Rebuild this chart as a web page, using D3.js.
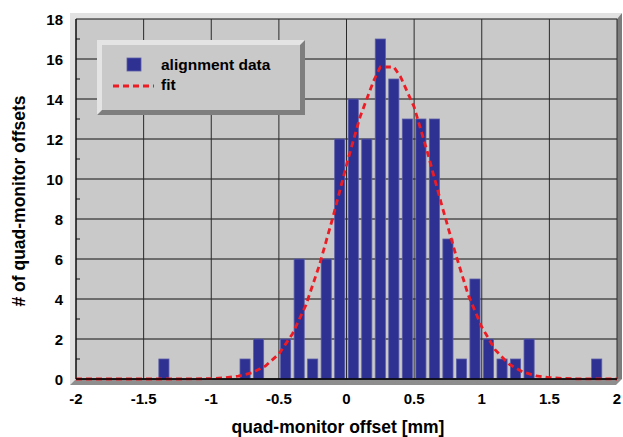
<!DOCTYPE html>
<html>
<head>
<meta charset="utf-8">
<script src="https://cdn.jsdelivr.net/npm/d3@7"></script>
<style>
  body { margin: 0; background: #fff; }
  svg { display: block; font-family: "Liberation Sans", Arial, sans-serif; font-weight: bold; }
</style>
</head>
<body>
<svg id="chart" width="623" height="437"></svg>
<script>
// histogram bins (left edge, bin width 0.1 mm) and counts
const binLeft = [-1.4, -0.8, -0.7, -0.5, -0.4, -0.3, -0.2, -0.1, 0.0, 0.1, 0.2, 0.3, 0.4, 0.5, 0.6, 0.7, 0.8, 0.9, 1.0, 1.1, 1.2, 1.3, 1.8];
const counts  = [1, 1, 2, 2, 6, 1, 6, 12, 14, 12, 17, 15, 13, 13, 13, 7, 1, 5, 2, 1, 1, 2, 1];
const binWidth = 0.1;

// fit curve
const fitX = [-2.0, -1.5, -1.2, -1.0, -0.9, -0.8, -0.7, -0.6, -0.5, -0.4, -0.3, -0.2, -0.1, 0.0, 0.1, 0.2, 0.25, 0.35, 0.4, 0.5, 0.6, 0.7, 0.8, 0.9, 1.0, 1.1, 1.2, 1.3, 1.4, 1.5, 1.6, 1.7, 2.0];
const fitY = [0, 0, 0, 0.02, 0.06, 0.14, 0.31, 0.65, 1.25, 2.25, 3.7, 5.7, 8.1, 10.7, 13.1, 14.9, 15.6, 15.6, 15.1, 13.6, 11.3, 8.8, 6.4, 4.2, 2.6, 1.45, 0.75, 0.36, 0.16, 0.07, 0.03, 0.01, 0];

const xTicks = [-2, -1.5, -1, -0.5, 0, 0.5, 1, 1.5, 2];
const yTicks = [0, 2, 4, 6, 8, 10, 12, 14, 16, 18];

const svg = d3.select("#chart");
const L = 76, R = 617, T = 19, B = 379;

const x = d3.scaleLinear().domain([-2, 2]).range([L, R]);
const y = d3.scaleLinear().domain([0, 18]).range([B, T]);

// 3D frame around the plot area
svg.append("polygon")
  .attr("points", [[70,13],[622,13],[617,T],[L,T],[L,B],[70,385]].join(" "))
  .attr("fill", "#e2e2e2");
svg.append("polygon")
  .attr("points", [[617,T],[622,13],[622,379],[617,B]].join(" "))
  .attr("fill", "#7c7c7c");
svg.append("polygon")
  .attr("points", [[L,B],[617,B],[622,379],[616,385],[70,385]].join(" "))
  .attr("fill", "#8e8e8e");

svg.append("rect")
  .attr("x", L).attr("y", T)
  .attr("width", R - L).attr("height", B - T)
  .attr("fill", "#c9c9c9");

// grid
svg.append("g")
  .selectAll("line")
  .data(yTicks)
  .enter().append("line")
    .attr("x1", L).attr("x2", R)
    .attr("y1", d => y(d)).attr("y2", d => y(d))
    .attr("stroke", "#111")
    .attr("stroke-width", 1);

svg.append("g")
  .selectAll("line")
  .data(xTicks)
  .enter().append("line")
    .attr("x1", d => x(d)).attr("x2", d => x(d))
    .attr("y1", T).attr("y2", B)
    .attr("stroke", "#2a2a2a")
    .attr("stroke-width", 1);

// minor y ticks
svg.append("g")
  .selectAll("line")
  .data(d3.range(1, 18, 2))
  .enter().append("line")
    .attr("x1", L).attr("x2", L + 4)
    .attr("y1", d => y(d)).attr("y2", d => y(d))
    .attr("stroke", "#111");

// bars
svg.append("g")
  .selectAll("rect")
  .data(binLeft)
  .enter().append("rect")
    .attr("x", d => x(d) + 1.7)
    .attr("width", d => x(d + binWidth) - x(d) - 3.4)
    .attr("y", (d, i) => y(counts[i]))
    .attr("height", (d, i) => y(0) - y(counts[i]))
    .attr("fill", "#2e3092")
    .attr("stroke", "#5b5ea8")
    .attr("stroke-width", 0.8);

// fit
const line = d3.line()
  .x(d => x(d[0]))
  .y(d => y(d[1]));

svg.append("path")
  .attr("d", line(fitX.map((d, i) => [d, fitY[i]])))
  .attr("fill", "none")
  .attr("stroke", "#ed1c24")
  .attr("stroke-width", 2.8)
  .attr("stroke-dasharray", "6,4");

// frame lines
svg.append("line").attr("x1", L).attr("x2", L).attr("y1", T).attr("y2", B).attr("stroke", "#000");
svg.append("line").attr("x1", L).attr("x2", R).attr("y1", B).attr("y2", B).attr("stroke", "#000").attr("stroke-width", 1.5);

// tick labels
svg.append("g")
  .selectAll("text")
  .data(yTicks)
  .enter().append("text")
    .attr("x", 63)
    .attr("y", d => y(d) + 5.5)
    .attr("text-anchor", "end")
    .attr("font-size", 15)
    .text(d => d);

svg.append("g")
  .selectAll("text")
  .data(xTicks)
  .enter().append("text")
    .attr("x", d => x(d))
    .attr("y", 404)
    .attr("text-anchor", "middle")
    .attr("font-size", 15)
    .text(d => d);

// axis titles
svg.append("text")
  .attr("x", 338)
  .attr("y", 433)
  .attr("text-anchor", "middle")
  .attr("font-size", 17.5)
  .text("quad-monitor offset [mm]");

svg.append("text")
  .attr("transform", "translate(25,201) rotate(-90)")
  .attr("text-anchor", "middle")
  .attr("font-size", 17.5)
  .text("# of quad-monitor offsets");

// legend with bevel
const lg = svg.append("g").attr("transform", "translate(97,40)");
lg.append("rect").attr("width", 208).attr("height", 75).attr("fill", "#7e7e7e");
lg.append("polygon")
  .attr("points", [[0,0],[208,0],[203,5],[5,5],[5,70],[0,75]].join(" "))
  .attr("fill", "#e4e4e4");
lg.append("rect").attr("x", 5).attr("y", 5).attr("width", 198).attr("height", 65).attr("fill", "#c9c9c9");

lg.append("rect")
  .attr("x", 30).attr("y", 18).attr("width", 14).attr("height", 13)
  .attr("fill", "#2e3092").attr("stroke", "#5b5ea8").attr("stroke-width", 0.8);
lg.append("text").attr("x", 64).attr("y", 30).attr("font-size", 15.5).text("alignment data");

lg.append("line")
  .attr("x1", 16).attr("x2", 57).attr("y1", 46).attr("y2", 46)
  .attr("stroke", "#ed1c24").attr("stroke-width", 2.8)
  .attr("stroke-dasharray", "6,4");
lg.append("text").attr("x", 64).attr("y", 50).attr("font-size", 15.5).text("fit");
</script>
</body>
</html>
